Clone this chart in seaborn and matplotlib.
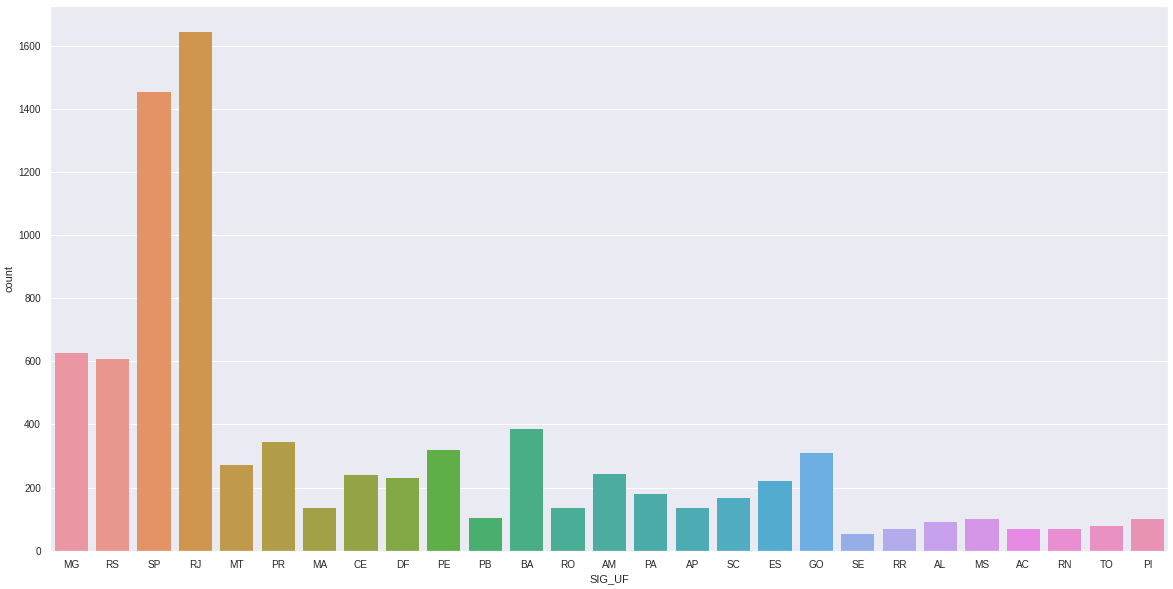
import numpy as np
import pandas as pd
import matplotlib
matplotlib.use("Agg")
import matplotlib.pyplot as plt
import seaborn as sns

# estados na ordem em que aparecem no grafico
ufs = ["MG", "RS", "SP", "RJ", "MT", "PR", "MA", "CE", "DF", "PE", "PB", "BA", "RO", "AM",
       "PA", "AP", "SC", "ES", "GO", "SE", "RR", "AL", "MS", "AC", "RN", "TO", "PI"]
counts = [625, 606, 1454, 1644, 270, 343, 136, 241, 229, 320, 105, 387, 136, 244,
          181, 136, 168, 222, 311, 54, 70, 92, 101, 70, 70, 79, 101]

# countplot precisa das linhas cruas, entao repete cada UF pela contagem
df = pd.DataFrame({"SIG_UF": np.repeat(ufs, counts)})

sns.set_theme(style="darkgrid")
plt.rcParams["font.family"] = ["Liberation Sans", "DejaVu Sans"]
plt.rcParams.update({"xtick.labelsize": 10, "ytick.labelsize": 10, "axes.labelsize": 11})

fig, ax = plt.subplots(figsize=(1173 / 72, 589 / 72), dpi=72)
fig.subplots_adjust(left=0.043, right=0.996, top=0.99, bottom=0.065)

pal = sns.husl_palette(len(ufs), l=.7)
sns.countplot(data=df, x="SIG_UF", hue="SIG_UF", order=ufs, hue_order=ufs,
              palette=pal, legend=False, linewidth=0, ax=ax)

fig.savefig("out.png", dpi=72)
